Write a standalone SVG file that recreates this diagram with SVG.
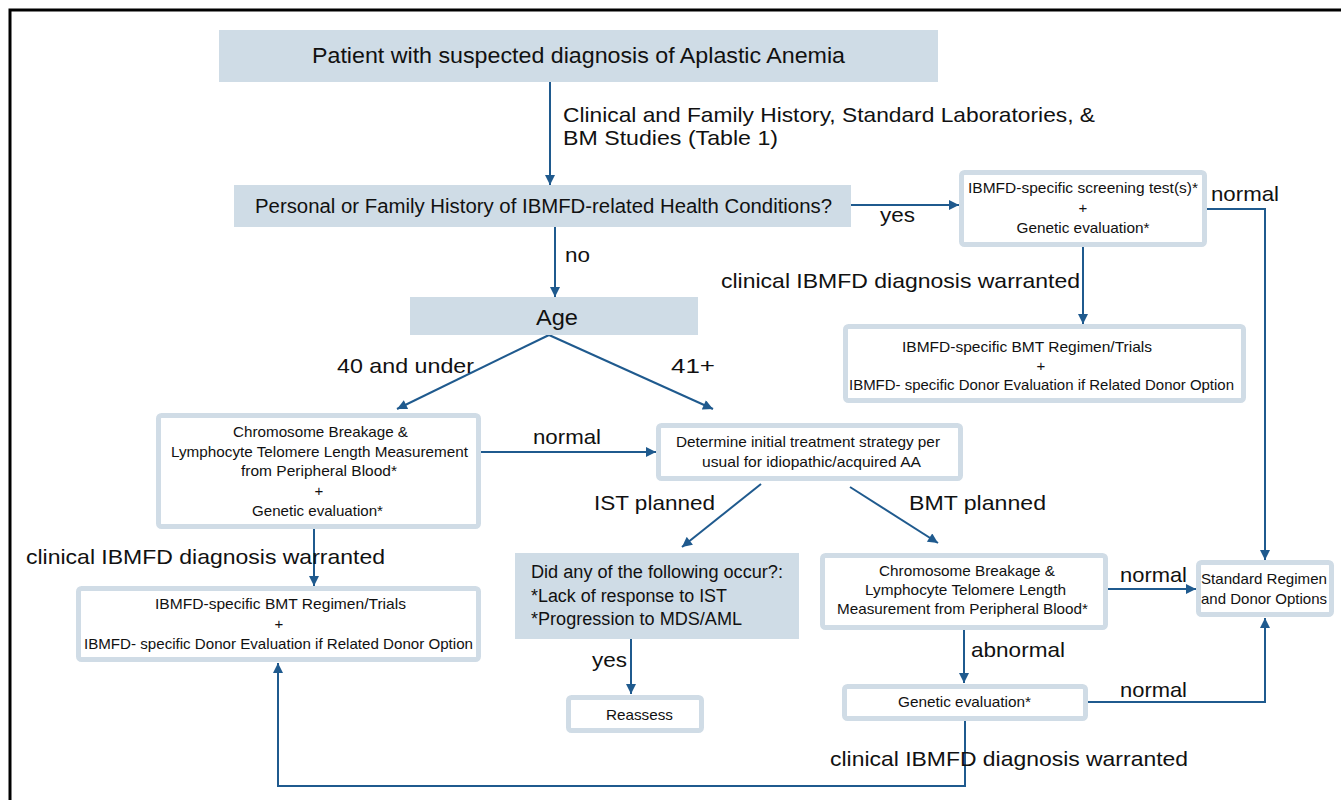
<svg xmlns="http://www.w3.org/2000/svg" width="1341" height="800" viewBox="0 0 1341 800">
<defs>
<style>
.fill{fill:#cfdce6;stroke:none}
.box{fill:#ffffff;stroke:#d0dce6;stroke-width:5}
.t{font-family:"Liberation Sans",Arial,Helvetica,sans-serif;fill:#111111}
.big{font-size:21px}
.sm{font-size:15px}
.c{text-anchor:middle}
.con{fill:none;stroke:#1f5a8e;stroke-width:2}
</style>
<marker id="ah" viewBox="0 0 10 10" refX="10" refY="5" markerWidth="11" markerHeight="10" markerUnits="userSpaceOnUse" orient="auto">
<path d="M0,0 L10,5 L0,10 z" fill="#1f5a8e"/>
</marker>
</defs>
<rect width="1341" height="800" fill="#ffffff"/>
<path d="M10,800 L10,10 L1341,10" fill="none" stroke="#000000" stroke-width="3"/>

<g id="connectors">
<line class="con" x1="550" y1="82" x2="550" y2="185" marker-end="url(#ah)"/>
<line class="con" x1="851" y1="205" x2="959" y2="205" marker-end="url(#ah)"/>
<path class="con" d="M1207,209 L1265,209 L1265,560" marker-end="url(#ah)"/>
<line class="con" x1="1083" y1="247" x2="1083" y2="324" marker-end="url(#ah)"/>
<line class="con" x1="555" y1="227" x2="555" y2="297" marker-end="url(#ah)"/>
<line class="con" x1="549" y1="335" x2="397" y2="409" marker-end="url(#ah)"/>
<line class="con" x1="549" y1="335" x2="713" y2="409" marker-end="url(#ah)"/>
<line class="con" x1="481" y1="452" x2="656" y2="452" marker-end="url(#ah)"/>
<line class="con" x1="314" y1="529" x2="314" y2="586" marker-end="url(#ah)"/>
<line class="con" x1="761" y1="484" x2="682" y2="547" marker-end="url(#ah)"/>
<line class="con" x1="850" y1="487" x2="938" y2="543" marker-end="url(#ah)"/>
<line class="con" x1="631" y1="639" x2="631" y2="694" marker-end="url(#ah)"/>
<line class="con" x1="1108" y1="589" x2="1196" y2="589" marker-end="url(#ah)"/>
<line class="con" x1="964" y1="630" x2="964" y2="683" marker-end="url(#ah)"/>
<path class="con" d="M1088,702 L1265,702 L1265,618" marker-end="url(#ah)"/>
<path class="con" d="M965,721 L965,786 L278,786 L278,663" marker-end="url(#ah)"/>
</g>

<g id="labels">
<text class="t big" x="563" y="122" textLength="532" lengthAdjust="spacingAndGlyphs">Clinical and Family History, Standard Laboratories, &amp;</text>
<text class="t big" x="563" y="145" textLength="215" lengthAdjust="spacingAndGlyphs">BM Studies (Table 1)</text>
<text class="t big" x="880" y="222" textLength="35" lengthAdjust="spacingAndGlyphs">yes</text>
<text class="t big" x="1211" y="201" textLength="68" lengthAdjust="spacingAndGlyphs">normal</text>
<text class="t big" x="721" y="288" textLength="359" lengthAdjust="spacingAndGlyphs">clinical IBMFD diagnosis warranted</text>
<text class="t big" x="565" y="262" textLength="25" lengthAdjust="spacingAndGlyphs">no</text>
<text class="t big" x="337" y="373" textLength="137" lengthAdjust="spacingAndGlyphs">40 and under</text>
<text class="t big" x="671" y="373" textLength="44" lengthAdjust="spacingAndGlyphs">41+</text>
<text class="t big" x="533" y="444" textLength="68" lengthAdjust="spacingAndGlyphs">normal</text>
<text class="t big" x="26" y="564" textLength="359" lengthAdjust="spacingAndGlyphs">clinical IBMFD diagnosis warranted</text>
<text class="t big" x="594" y="510" textLength="121" lengthAdjust="spacingAndGlyphs">IST planned</text>
<text class="t big" x="909" y="510" textLength="137" lengthAdjust="spacingAndGlyphs">BMT planned</text>
<text class="t big" x="592" y="667" textLength="35" lengthAdjust="spacingAndGlyphs">yes</text>
<text class="t big" x="1120" y="582" textLength="67" lengthAdjust="spacingAndGlyphs">normal</text>
<text class="t big" x="971" y="657" textLength="94" lengthAdjust="spacingAndGlyphs">abnormal</text>
<text class="t big" x="1120" y="697" textLength="67" lengthAdjust="spacingAndGlyphs">normal</text>
<text class="t big" x="830" y="766" textLength="358" lengthAdjust="spacingAndGlyphs">clinical IBMFD diagnosis warranted</text>
</g>

<g id="n-patient">
<rect class="fill" x="219" y="30" width="719" height="52"/>
<text class="t c" x="578.5" y="63" font-size="22" textLength="533" lengthAdjust="spacingAndGlyphs">Patient with suspected diagnosis of Aplastic Anemia</text>
</g>
<g id="n-history">
<rect class="fill" x="234" y="185" width="617" height="42"/>
<text class="t c" x="543.5" y="213" font-size="20" textLength="577" lengthAdjust="spacingAndGlyphs">Personal or Family History of IBMFD-related Health Conditions?</text>
</g>
<g id="n-screening">
<rect class="box" x="961.5" y="172.5" width="243" height="72" rx="3"/>
<text class="t sm c" x="1083" y="193" textLength="230" lengthAdjust="spacingAndGlyphs">IBMFD-specific screening test(s)*</text>
<text class="t sm c" x="1083" y="213">+</text>
<text class="t sm c" x="1083" y="233" textLength="133" lengthAdjust="spacingAndGlyphs">Genetic evaluation*</text>
</g>
<g id="n-bmt-top">
<rect class="box" x="845.5" y="326.5" width="398" height="74" rx="3"/>
<text class="t sm c" x="1027" y="352" textLength="250" lengthAdjust="spacingAndGlyphs">IBMFD-specific BMT Regimen/Trials</text>
<text class="t sm c" x="1041" y="371">+</text>
<text class="t sm c" x="1041.5" y="390" textLength="385" lengthAdjust="spacingAndGlyphs">IBMFD- specific Donor Evaluation if Related Donor Option</text>
</g>
<g id="n-age">
<rect class="fill" x="410" y="297" width="288" height="38"/>
<text class="t c" x="557" y="325" font-size="22" textLength="42" lengthAdjust="spacingAndGlyphs">Age</text>
</g>
<g id="n-chromo-left">
<rect class="box" x="158.5" y="415.5" width="320" height="111" rx="3"/>
<text class="t sm c" x="320.5" y="437" textLength="175" lengthAdjust="spacingAndGlyphs">Chromosome Breakage &amp;</text>
<text class="t sm c" x="319.5" y="457" textLength="297" lengthAdjust="spacingAndGlyphs">Lymphocyte Telomere Length Measurement</text>
<text class="t sm c" x="319" y="476" textLength="156" lengthAdjust="spacingAndGlyphs">from Peripheral Blood*</text>
<text class="t sm c" x="319" y="496">+</text>
<text class="t sm c" x="317.5" y="516" textLength="131" lengthAdjust="spacingAndGlyphs">Genetic evaluation*</text>
</g>
<g id="n-bmt-left">
<rect class="box" x="78.5" y="588.5" width="400" height="71" rx="3"/>
<text class="t sm c" x="280.5" y="609" textLength="251" lengthAdjust="spacingAndGlyphs">IBMFD-specific BMT Regimen/Trials</text>
<text class="t sm c" x="279" y="629">+</text>
<text class="t sm c" x="278.5" y="649" textLength="389" lengthAdjust="spacingAndGlyphs">IBMFD- specific Donor Evaluation if Related Donor Option</text>
</g>
<g id="n-determine">
<rect class="box" x="658.5" y="425.5" width="302" height="53" rx="3"/>
<text class="t sm c" x="808" y="447" textLength="264" lengthAdjust="spacingAndGlyphs">Determine initial treatment strategy per</text>
<text class="t sm c" x="811.5" y="467" textLength="219" lengthAdjust="spacingAndGlyphs">usual for idiopathic/acquired AA</text>
</g>
<g id="n-didany">
<rect class="fill" x="515" y="553" width="284" height="86"/>
<text class="t" x="531" y="578" font-size="18" textLength="252" lengthAdjust="spacingAndGlyphs">Did any of the following occur?:</text>
<text class="t" x="531" y="602" font-size="18" textLength="196" lengthAdjust="spacingAndGlyphs">*Lack of response to IST</text>
<text class="t" x="531" y="625" font-size="18" textLength="211" lengthAdjust="spacingAndGlyphs">*Progression to MDS/AML</text>
</g>
<g id="n-reassess">
<rect class="box" x="568.5" y="697.5" width="133" height="33" rx="3"/>
<text class="t sm c" x="639.5" y="720" textLength="67" lengthAdjust="spacingAndGlyphs">Reassess</text>
</g>
<g id="n-chromo-right">
<rect class="box" x="822.5" y="555.5" width="283" height="72" rx="3"/>
<text class="t sm c" x="967" y="576" textLength="176" lengthAdjust="spacingAndGlyphs">Chromosome Breakage &amp;</text>
<text class="t sm c" x="965.5" y="595" textLength="201" lengthAdjust="spacingAndGlyphs">Lymphocyte Telomere Length</text>
<text class="t sm c" x="962.5" y="614" textLength="251" lengthAdjust="spacingAndGlyphs">Measurement from Peripheral Blood*</text>
</g>
<g id="n-standard">
<rect class="box" x="1198.5" y="562.5" width="133" height="52" rx="3"/>
<text class="t sm" x="1201" y="584" textLength="126" lengthAdjust="spacingAndGlyphs">Standard Regimen</text>
<text class="t sm" x="1201" y="604" textLength="126" lengthAdjust="spacingAndGlyphs">and Donor Options</text>
</g>
<g id="n-genetic">
<rect class="box" x="844.5" y="686.5" width="241" height="32" rx="3"/>
<text class="t sm c" x="964.5" y="707" textLength="133" lengthAdjust="spacingAndGlyphs">Genetic evaluation*</text>
</g>
</svg>
